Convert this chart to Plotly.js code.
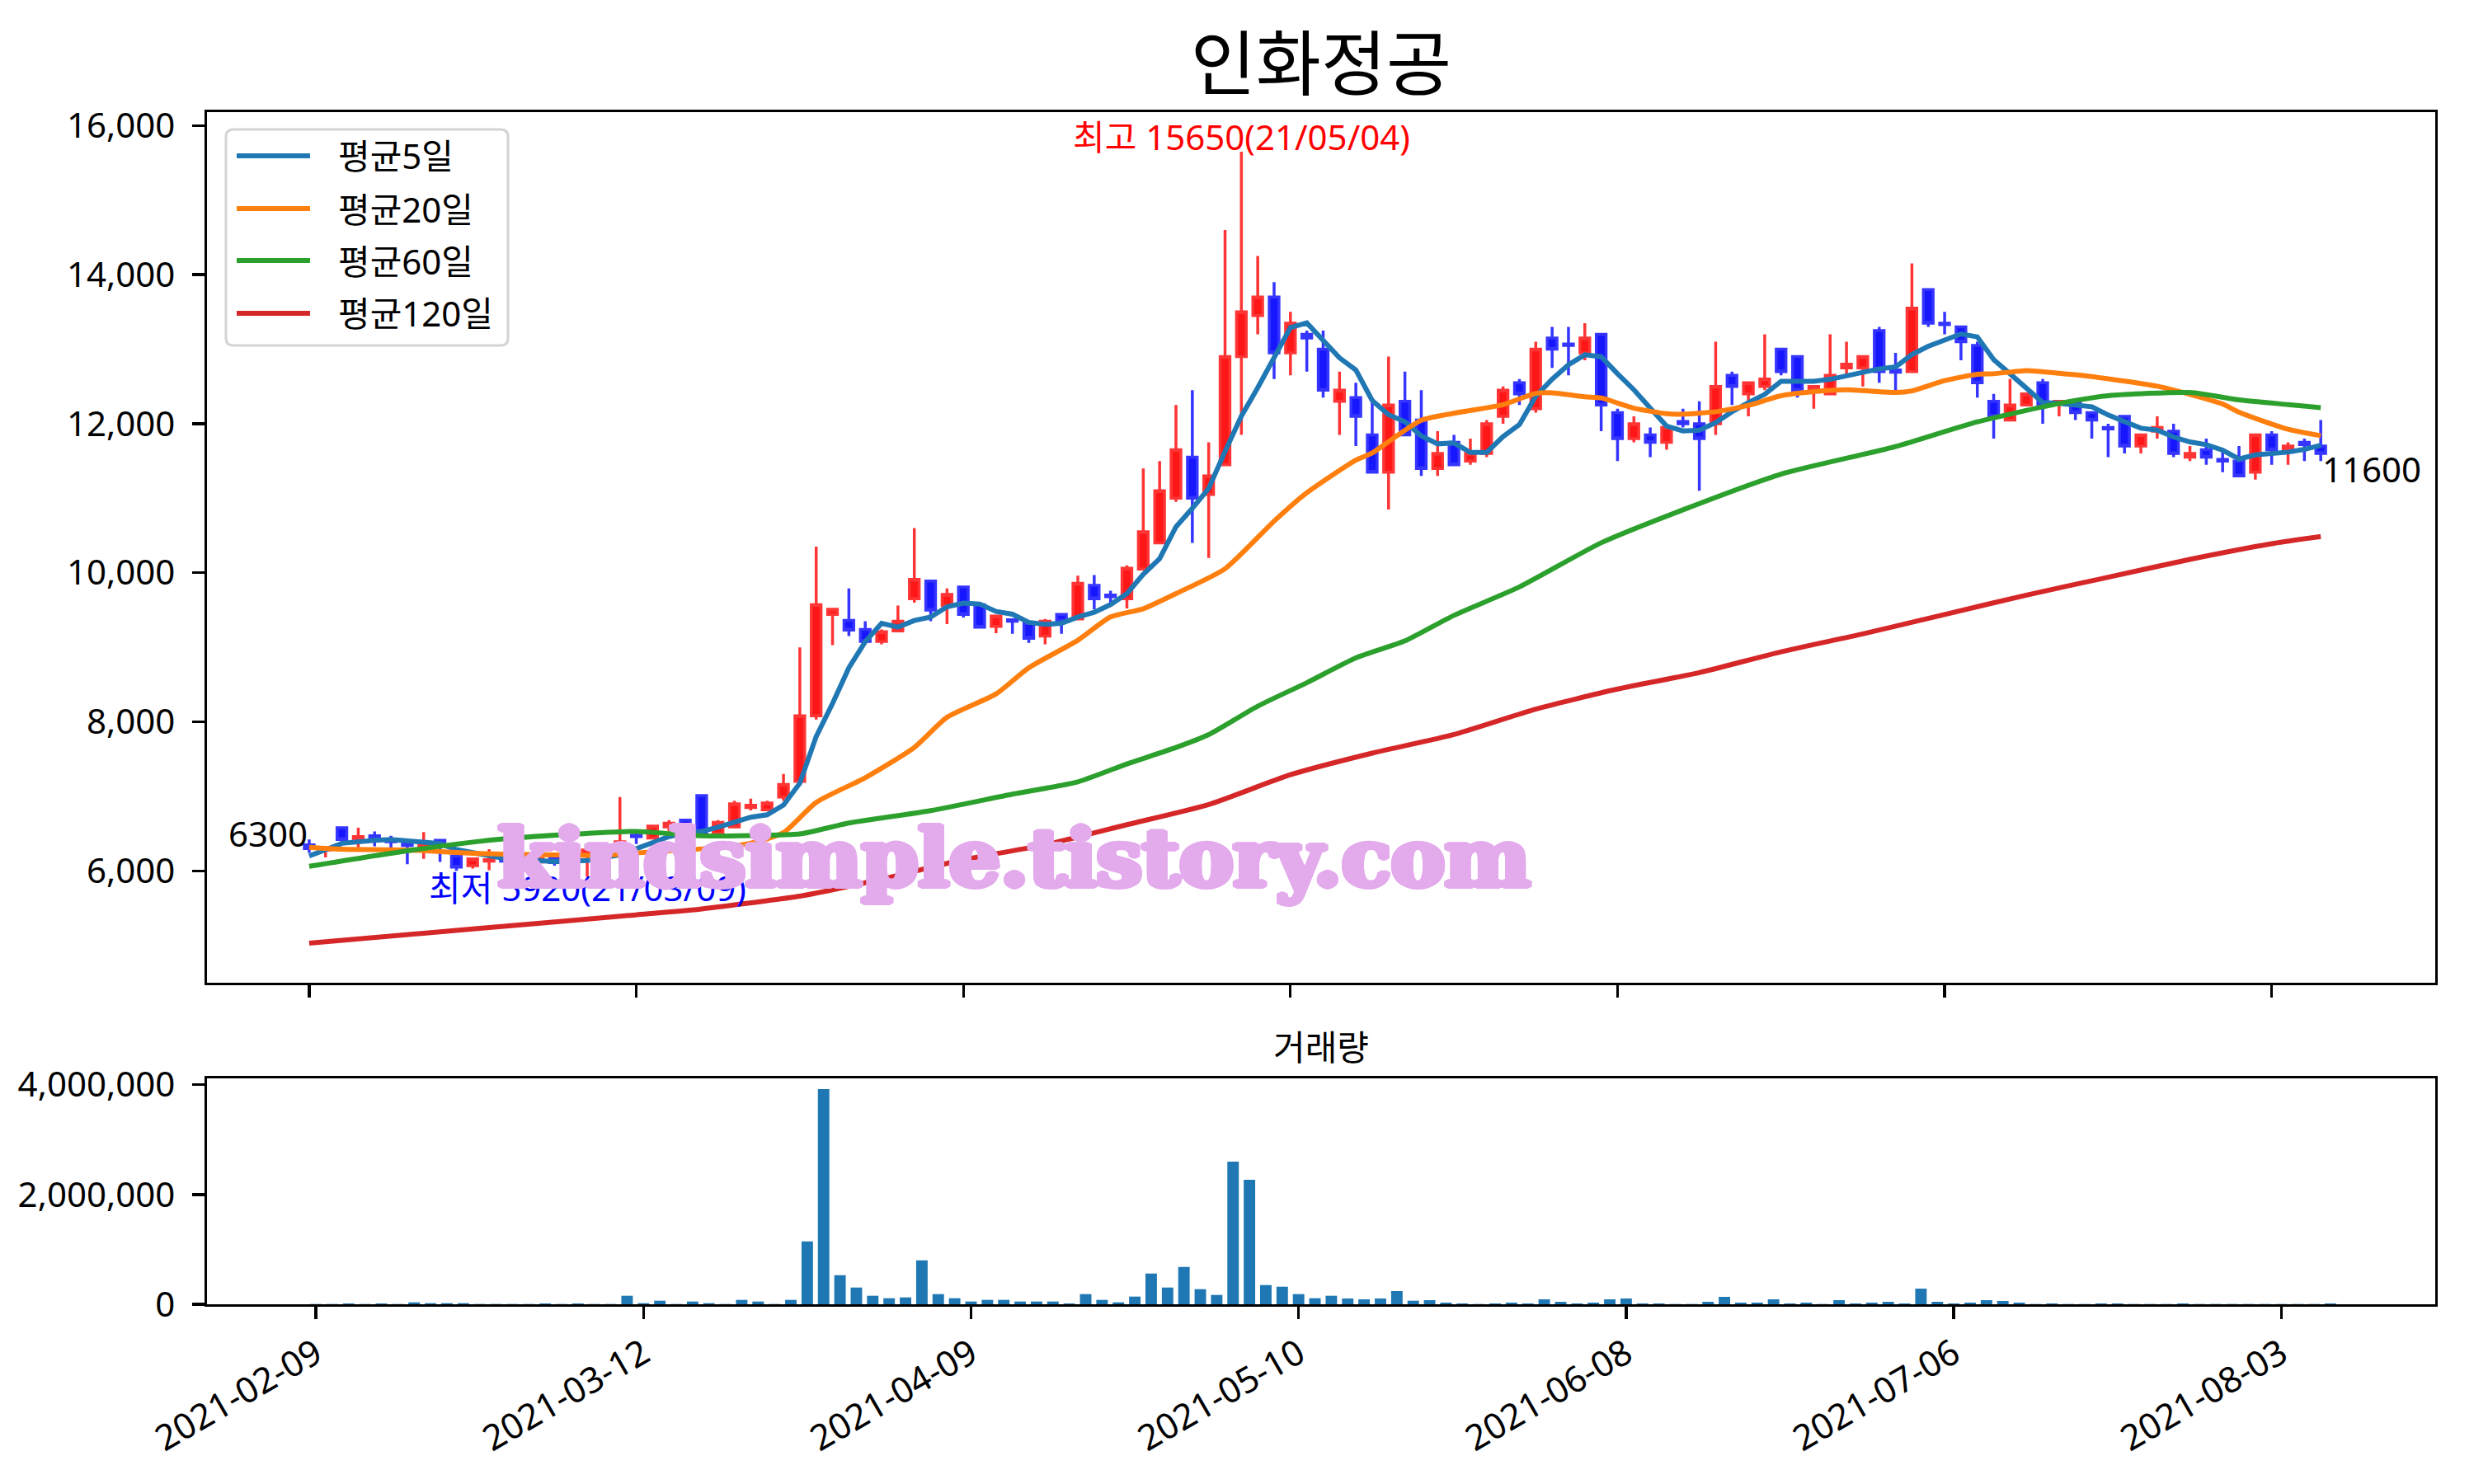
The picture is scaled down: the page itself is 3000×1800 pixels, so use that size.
<!DOCTYPE html>
<html>
<head>
<meta charset="utf-8">
<script src="https://cdn.plot.ly/plotly-3.0.1.min.js"></script>
<style>
html,body{margin:0;padding:0;background:#ffffff;}
#chart{width:3000px;height:1800px;}
</style>
</head>
<body>
<div id="chart"></div>
<script>
// ---------------- DATA ----------------
const chartTitle = '인화정공';
const volumeTitle = '거래량';
const tickIndex = [0, 20, 40, 60, 80, 100, 120];
const tickDates = ['2021-02-09', '2021-03-12', '2021-04-09', '2021-05-10', '2021-06-08', '2021-07-06', '2021-08-03'];

const openP = [6350,6280,6580,6430,6470,6420,6360,6310,6410,6200,
  6070,6130,6200,6020,6120,6170,6150,6210,6290,6330,
  6480,6440,6590,6680,7010,6500,6590,6850,6820,6990,
  7200,8080,9440,9360,9240,9080,9220,9650,9890,9560,
  9810,9570,9280,9370,9320,9150,9440,9380,9830,9700,
  9650,10050,10400,11000,11550,11050,11450,12900,13450,13700,
  12950,13200,13000,12300,12350,11850,11350,12300,12050,11400,
  11750,11500,11600,12100,12550,12200,13150,13070,12950,13200,
  12150,11800,11850,11750,12030,12000,12000,12650,12400,12500,
  13000,12900,12450,12400,12750,12750,13250,12720,12700,13800,
  13350,13300,13050,12300,12050,12250,12550,12280,12300,12150,
  11950,12100,11700,11900,11900,11550,11650,11520,11500,11350,
  11850,11650,11750,11700];
const highP = [6420,6330,6590,6580,6530,6470,6380,6520,6410,6240,
  6180,6290,6260,6100,6200,6180,6200,6300,6330,6990,
  6550,6620,6680,6690,7010,6680,6940,6970,6940,7300,
  9000,10350,9530,9790,9350,9240,9560,10600,9890,9790,
  9810,9570,9420,9390,9320,9380,9440,9960,9970,9760,
  10100,11400,11500,12250,12450,11750,14600,15650,14250,13900,
  13500,13250,13250,12700,12550,12300,12900,12700,12450,11900,
  11850,11800,12050,12500,12600,13100,13300,13300,13350,13200,
  12200,12100,11950,11950,12200,12300,13100,12700,12550,13200,
  13000,12900,12500,13200,13100,12900,13300,12950,14150,13800,
  13500,13300,13100,12400,12600,12400,12600,12300,12300,12150,
  12000,12100,11850,12100,12000,11700,11800,11650,11700,11850,
  11900,11750,11800,12050];
const lowP = [6240,6180,6370,6310,6330,6310,6090,6160,6120,6000,
  6030,6010,6100,5990,6080,6070,6040,5920,6200,6290,
  6360,6420,6530,6490,6500,6480,6580,6810,6810,6940,
  7190,8030,9030,9150,9060,9040,9200,9600,9350,9310,
  9400,9270,9190,9180,9060,9040,9180,9380,9510,9570,
  9520,10050,10400,10950,10400,10200,11450,11850,13200,12600,
  12650,12700,12350,11850,11700,11350,10850,11850,11300,11300,
  11450,11450,11550,12000,12250,12150,12750,12650,12850,11900,
  11500,11750,11550,11650,11950,11100,11850,12250,12100,12450,
  12650,12350,12200,12400,12650,12500,12550,12450,12700,13300,
  13200,12850,12350,11800,12050,12250,12000,12100,12050,11800,
  11550,11600,11600,11800,11550,11500,11450,11350,11300,11250,
  11450,11450,11500,11500];
const closeP = [6300,6300,6420,6460,6440,6390,6340,6340,6360,6050,
  6160,6150,6130,6060,6160,6110,6080,6280,6250,6390,
  6460,6600,6640,6510,6510,6650,6900,6880,6910,7160,
  8080,9570,9510,9230,9080,9210,9350,9910,9500,9710,
  9440,9270,9420,9350,9120,9350,9350,9860,9650,9680,
  10060,10550,11100,11650,11000,11300,12900,13500,13700,12950,
  13350,13150,12450,12450,12100,11350,12250,11850,11400,11600,
  11450,11600,12000,12450,12400,13000,13000,13050,13150,12250,
  11800,12000,11750,11950,12000,11800,12500,12500,12550,12600,
  12700,12450,12500,12650,12800,12900,12700,12690,13550,13350,
  13330,13100,12550,12100,12250,12400,12250,12300,12150,12050,
  11930,11700,11850,11950,11600,11600,11550,11500,11300,11850,
  11650,11700,11720,11600];
const volume = [5000,5000,15000,5000,15000,5000,35000,20000,20000,20000,
  5000,5000,5000,5000,15000,5000,15000,5000,5000,155000,
  20000,65000,5000,50000,20000,5000,80000,50000,5000,80000,
  1145000,3920000,530000,305000,155000,110000,125000,800000,185000,110000,
  50000,80000,80000,50000,50000,50000,15000,185000,80000,35000,
  140000,560000,305000,680000,275000,170000,2600000,2270000,350000,320000,
  185000,110000,155000,105000,90000,105000,240000,65000,75000,30000,
  15000,5000,15000,30000,15000,90000,45000,15000,30000,90000,
  105000,15000,15000,5000,5000,45000,135000,30000,30000,90000,
  15000,30000,5000,75000,15000,30000,45000,15000,285000,45000,
  15000,30000,75000,60000,30000,5000,15000,5000,5000,15000,
  15000,5000,5000,5000,15000,5000,5000,5000,5000,5000,
  5000,5000,5000,15000];

// moving-average lines, read at the day positions where they were measured
const ma5Days = [0,2,4,5,7,8,9,11,12,15,17,19,20,22,23,24,25,26,27,
  28,29,30,31,32,33,34,35,36,37,38,39,40,41,42,43,44,45,46,47,48,49,50,
  51,52,53,54,55,56,57,58,59,60,61,62,63,64,65,66,67,68,69,70,71,72,73,74,75,
  76,77,78,79,80,81,82,83,84,85,86,87,88,89,90,91,92,93,94,95,96,97,98,99,100,
  101,102,103,104,105,106,107,108,109,110,111,112,113,114,115,116,117,118,119,120,121,122,123];
const ma5 = [6200,6370,6410,6420,6385,6365,6285,6215,6165,6125,6140,6215,6300,6460,6505,6530,6585,6650,6720,
  6753,6882,7177,7803,8246,8725,9075,9322,9271,9359,9407,9544,9592,9581,9481,9444,9334,9308,9322,9407,9470,9573,9721,
  9979,10190,10617,10865,11131,11627,12103,12484,12903,13291,13352,13124,12884,12720,12312,12122,12027,11836,11730,11741,11615,11615,11828,11988,12369,
  12598,12790,12925,12899,12670,12456,12209,11969,11903,11914,12014,12161,12283,12394,12570,12570,12570,12596,12640,12688,12736,12762,12928,13039,13131,
  13205,13165,12860,12670,12486,12283,12272,12257,12228,12117,12025,11940,11914,11822,11756,11719,11645,11527,11582,11593,11619,11656,11711];
const ma20Days = [0,2,5,7,10,12,15,18,20,22,25,27,29,31,34,37,39,42,44,47,49,51,53,56,59,61,64,65,66,68,
  70,73,75,76,78,79,81,83,84,86,88,90,92,94,97,98,100,102,103,105,107,109,113,115,117,118,121,123];
const ma20 = [6317,6291,6283,6272,6235,6225,6215,6210,6240,6270,6309,6372,6513,6919,7250,7656,8061,8375,8725,9094,
  9407,9518,9721,10054,10693,11074,11512,11607,11760,12046,12141,12255,12407,12415,12362,12346,12209,12135,12128,12161,
  12246,12375,12430,12456,12419,12441,12578,12663,12670,12714,12677,12633,12504,12394,12264,12154,11925,11840];
const ma60Days = [0,6,12,20,22,24,27,30,33,38,43,47,50,53,55,58,61,64,67,70,74,79,84,90,97,102,107,110,115,118,121,123];
const ma60 = [6062,6270,6431,6530,6500,6470,6475,6495,6642,6808,7029,7195,7435,7656,7829,8210,8525,8857,9086,9429,
  9810,10402,10845,11324,11693,12025,12272,12375,12419,12320,12257,12216];
const ma120Days = [0,10,20,24,28,30,35,40,45,50,55,60,65,70,75,80,85,90,95,100,105,110,115,120,123];
const ma120 = [5030,5220,5410,5490,5600,5660,5890,6150,6350,6620,6890,7290,7580,7830,8170,8440,8660,8940,9180,9440,9700,9940,10180,10390,10487];

const seriesNames = ['평균5일', '평균20일', '평균60일', '평균120일'];
const seriesColors = ['#1f77b4', '#ff7f0e', '#2ca02c', '#d62728'];

const firstLabel = '6300';
const lastLabel = '11600';
const highLabel = '최고 15650(21/05/04)';
const lowLabel = '최저 5920(21/03/09)';
const highDay = 57, lowDay = 17;
const watermark = 'kindsimple.tistory.com';

// ---------------- LAYOUT GEOMETRY ----------------
const W = 3000, H = 1800;
const L = 251, R = 2953, T = 136, B = 1582;
const priceBottom = 1192, volTop = 1308;
const PX = p => (p - L) / (R - L);
const PY = p => (B - p) / (B - T);
const FONT = "'Noto Sans', 'Noto Sans CJK KR', sans-serif";
const KFONT = "'Noto Sans CJK KR', 'Noto Sans', sans-serif";
const FS = 42;

const days = closeP.map((_, i) => i);

const traces = [
  {
    type: 'candlestick', x: days, open: openP, high: highP, low: lowP, close: closeP,
    xaxis: 'x', yaxis: 'y', showlegend: false, hoverinfo: 'skip', whiskerwidth: 0,
    increasing: {line: {color: '#ff3535', width: 3.5}, fillcolor: '#ff1616'},
    decreasing: {line: {color: '#3535ff', width: 3.5}, fillcolor: '#1616ff'}
  },
  {type: 'scatter', mode: 'lines', x: ma5Days, y: ma5, name: seriesNames[0], line: {color: seriesColors[0], width: 6}, xaxis: 'x', yaxis: 'y', hoverinfo: 'skip'},
  {type: 'scatter', mode: 'lines', x: ma20Days, y: ma20, name: seriesNames[1], line: {color: seriesColors[1], width: 6, shape: 'spline', smoothing: 0.6}, xaxis: 'x', yaxis: 'y', hoverinfo: 'skip'},
  {type: 'scatter', mode: 'lines', x: ma60Days, y: ma60, name: seriesNames[2], line: {color: seriesColors[2], width: 6, shape: 'spline', smoothing: 0.6}, xaxis: 'x', yaxis: 'y', hoverinfo: 'skip'},
  {type: 'scatter', mode: 'lines', x: ma120Days, y: ma120, name: seriesNames[3], line: {color: seriesColors[3], width: 6, shape: 'spline', smoothing: 0.6}, xaxis: 'x', yaxis: 'y', hoverinfo: 'skip'},
  {type: 'bar', x: days, y: volume, width: 0.7, marker: {color: '#1f77b4', line: {width: 0}}, xaxis: 'x2', yaxis: 'y2', showlegend: false, hoverinfo: 'skip'}
];

const axisCommon = {
  showline: true, linecolor: '#000000', linewidth: 3.3, mirror: true,
  ticks: 'outside', ticklen: 15, tickwidth: 3.3, tickcolor: '#000000',
  showgrid: false, zeroline: false, fixedrange: true,
  tickfont: {family: FONT, size: FS, color: '#000000'}
};

// legend drawn as a framed box
const lx0 = PX(274), lx1 = PX(616), ly0 = PY(419), ly1 = PY(157);
const rx = 9 / (R - L), ry = 9 / (B - T);
const legendPath = `M${lx0 + rx},${ly0} L${lx1 - rx},${ly0} Q${lx1},${ly0} ${lx1},${ly0 + ry} L${lx1},${ly1 - ry} Q${lx1},${ly1} ${lx1 - rx},${ly1} L${lx0 + rx},${ly1} Q${lx0},${ly1} ${lx0},${ly1 - ry} L${lx0},${ly0 + ry} Q${lx0},${ly0} ${lx0 + rx},${ly0} Z`;
const legendRows = [189, 253, 316, 380];

const shapes = [
  {type: 'path', xref: 'paper', yref: 'paper', path: legendPath, fillcolor: 'rgba(255,255,255,0.8)', line: {color: '#d4d4d4', width: 3}, layer: 'above'}
];
legendRows.forEach((ry0, k) => {
  shapes.push({type: 'line', xref: 'paper', yref: 'paper', x0: PX(287), x1: PX(376), y0: PY(ry0), y1: PY(ry0),
    line: {color: seriesColors[k], width: 6}, layer: 'above'});
});

const wmColor = '#e3aaec';
const wmShadow = [[3,0],[-3,0],[0,3],[0,-3],[2,2],[-2,-2],[2,-2],[-2,2],[4,1],[-4,1],[4,-1],[-4,-1]]
  .map(o => o[0] + 'px ' + o[1] + 'px 0 ' + wmColor).join(', ');

const annotations = [
  {xref: 'x', yref: 'y', x: 0, y: closeP[0], text: firstLabel, showarrow: false, xanchor: 'right', yanchor: 'bottom', yshift: -12, font: {family: FONT, size: FS, color: '#000000'}},
  {xref: 'x', yref: 'y', x: closeP.length - 1, y: closeP[closeP.length - 1], text: lastLabel, showarrow: false, xanchor: 'left', yanchor: 'top', yshift: 12, font: {family: FONT, size: FS, color: '#000000'}},
  {xref: 'x', yref: 'y', x: highDay, y: highP[highDay], text: highLabel, showarrow: false, xanchor: 'center', yanchor: 'bottom', yshift: -12, font: {family: FONT, size: FS, color: '#ff0000'}},
  {xref: 'x', yref: 'y', x: lowDay, y: lowP[lowDay], text: lowLabel, showarrow: false, xanchor: 'center', yanchor: 'top', yshift: 18, font: {family: FONT, size: FS, color: '#0000ff'}},
  {xref: 'paper', yref: 'paper', x: 0.5, y: PY(1267), text: volumeTitle, showarrow: false, xanchor: 'center', yanchor: 'middle', font: {family: KFONT, size: FS, color: '#000000'}}
];
legendRows.forEach((ry0, k) => {
  annotations.push({xref: 'paper', yref: 'paper', x: PX(408), y: PY(ry0), text: seriesNames[k], showarrow: false,
    xanchor: 'left', yanchor: 'middle', font: {family: FONT, size: FS, color: '#000000'}});
});
annotations.push({xref: 'paper', yref: 'paper', x: PX(1230), y: PY(1040), text: '<b>' + watermark + '</b>', showarrow: false,
  xanchor: 'center', yanchor: 'middle', font: {family: "'DejaVu Serif', serif", size: 98, color: wmColor, shadow: wmShadow}});

const layout = {
  width: W, height: H,
  paper_bgcolor: '#ffffff', plot_bgcolor: '#ffffff',
  margin: {l: L, r: W - R, t: T, b: H - B, pad: 0},
  showlegend: false,
  title: {text: chartTitle, font: {family: KFONT, size: 86, color: '#000000'}, x: 0.5, xref: 'paper', xanchor: 'center', y: 1 - 79 / H, yref: 'container', yanchor: 'middle'},
  xaxis: Object.assign({}, axisCommon, {domain: [0, 1], anchor: 'y', range: [-6.25, 130.0], tickmode: 'array', tickvals: tickIndex, showticklabels: false, rangeslider: {visible: false}}),
  yaxis: Object.assign({}, axisCommon, {domain: [PY(priceBottom), 1], anchor: 'x', range: [4499, 16181], tickmode: 'array', tickvals: [6000, 8000, 10000, 12000, 14000, 16000], tickformat: ',d', ticklabelstandoff: 12}),
  xaxis2: Object.assign({}, axisCommon, {domain: [0, 1], anchor: 'y2', range: [-6.65, 129.4], tickmode: 'array', tickvals: tickIndex, ticktext: tickDates, tickangle: -30, ticklabelstandoff: 0, tickfont: {family: FONT, size: 43, color: '#000000'}}),
  yaxis2: Object.assign({}, axisCommon, {domain: [0, PY(volTop)], anchor: 'x2', range: [0, 4116000], tickmode: 'array', tickvals: [0, 2000000, 4000000], tickformat: ',d', ticklabelstandoff: 12}),
  boxgap: 0.15, boxgroupgap: 0.3,
  shapes: shapes,
  annotations: annotations
};

Plotly.newPlot('chart', traces, layout, {staticPlot: true, displayModeBar: false});
</script>
</body>
</html>
